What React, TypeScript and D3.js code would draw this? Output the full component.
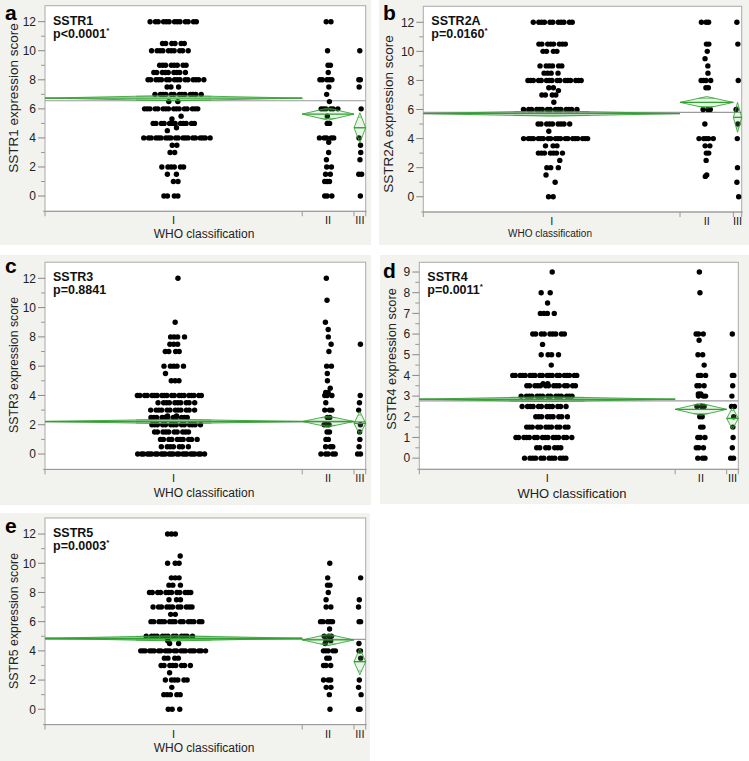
import React from 'react';
import * as d3 from 'd3';

// ---------- DATA ----------
const GROUPS = ['I', 'II', 'III'];
const Y_TICKS_12 = [0, 2, 4, 6, 8, 10, 12];
const Y_MINOR_12 = [1, 3, 5, 7, 9, 11];
const Y_TICKS_9 = [0, 1, 2, 3, 4, 5, 6, 7, 8, 9];
const Y_MINOR_9 = [0.5, 1.5, 2.5, 3.5, 4.5, 5.5, 6.5, 7.5, 8.5];

// [score, number of patients]
const SSTR1_I = [[12,13],[10.5,6],[10,10],[9,8],[8.5,9],[8,16],[7.5,3],[7,13],[6.5,2],[6,16],[5.5,1],[5.3,1],[5,12],[4.7,1],[4.5,1],[4,20],[3.5,2],[3,2],[2,6],[1.5,2],[1,2],[0,4]];
const SSTR1_II = [[12,2],[10,1],[9,2],[8.5,1],[8,5],[7.5,1],[7,1],[6.5,1],[6,6],[5.5,1],[5,2],[4,5],[3.7,1],[3,1],[2.5,1],[2,2],[1.5,2],[1,3],[0,3]];
const SSTR1_III = [[10,1],[8,2],[7.5,1],[6,1],[4,1],[3.5,1],[3,1],[2.5,1],[1.5,2],[0,1]];

const SSTR2A_I = [[12,11],[10.5,8],[10,4],[9,6],[8.5,4],[8,16],[7.5,2],[7.3,1],[7,4],[6.5,1],[6,15],[5,9],[4.5,1],[4,20],[3.5,3],[3,7],[2.5,1],[2,3],[1.5,1],[1,1],[0,2]];
const SSTR2A_II = [[12,3],[10.5,2],[10,1],[9.5,1],[9,1],[8.5,1],[8,4],[7.5,2],[6,3],[5,1],[4,5],[3.5,2],[3,2],[2.5,1],[1.5,1],[1.4,1]];
const SSTR2A_III = [[12,1],[10.5,1],[8,1],[6,1],[5,1],[4,1],[2,1],[1,1],[0,1]];

const SSTR3_I = [[12,1],[9,1],[8,4],[7.5,3],[7,4],[6,5],[5.5,1],[5,3],[4,20],[3.5,10],[3,12],[2.6,2],[2.5,11],[2,14],[1.5,10],[1,10],[0.5,7],[0,25]];
const SSTR3_II = [[12,1],[10.5,1],[9,1],[8.5,1],[8,1],[7.5,1],[7,1],[6,2],[5.5,1],[5,1],[4.5,1],[4.2,2],[4,3],[3.5,1],[3,3],[2.5,2],[2,3],[1.5,2],[1,2],[0.5,3],[0,5]];
const SSTR3_III = [[7.5,1],[4,1],[3.5,1],[3,1],[2,1],[1.5,1],[1,1],[0.5,1],[0,2]];

const SSTR4_I = [[9,1],[8,2],[7.5,1],[7,4],[6,9],[5.5,1],[5,4],[4.5,1],[4,20],[3.6,2],[3.5,14],[3,15],[2.5,12],[2,9],[1.5,12],[1,16],[0.5,7],[0,12]];
const SSTR4_II = [[9,1],[8,1],[6,3],[5.7,1],[5,2],[4.5,1],[4,3],[3.5,3],[3.1,2],[3,3],[2.5,3],[2,2],[1.5,2],[1,3],[0.5,3],[0,3]];
const SSTR4_III = [[6,1],[4,2],[3.5,1],[3,1],[2.5,2],[2,1],[1.5,1],[1,1],[0.5,1],[0,2]];

const SSTR5_I = [[12,3],[10.5,1],[10,3],[9,3],[8.5,3],[8,12],[7.5,3],[7,11],[6.5,2],[6,15],[5,13],[4.7,1],[4.5,2],[4,22],[3.5,4],[3,8],[2.5,1],[2,6],[1.5,1],[1,5],[0,3]];
const SSTR5_II = [[10,1],[9,1],[8.5,2],[8,1],[7.5,1],[7,2],[6,5],[5.5,1],[5,3],[4.7,2],[4.5,1],[4,5],[3.5,2],[3,3],[2,3],[1.5,2],[1,1],[0,1]];
const SSTR5_III = [[9,1],[7.5,1],[7,1],[6,2],[4.5,1],[4,2],[3.5,1],[2,1],[1.5,1],[1,1],[0,2]];

// group sizes (axis proportional)
const N_A = [154, 31, 7];
const N_B = [154, 32, 5];
const N_C = [154, 31, 7];
const N_D = [154, 31, 7];
const N_E = [154, 31, 7];

// means diamonds: group means, CI half widths, grand mean
const MEANS_A = [6.74, 5.64, 4.7];
const HALF_A = [0.18, 0.42, 1.03];
const GRAND_A = 6.56;
const MEANS_B = [5.72, 6.49, 5.46];
const HALF_B = [0.18, 0.4, 1.03];
const GRAND_B = 5.8;
const MEANS_C = [2.22, 2.22, 2.1];
const HALF_C = [0.15, 0.37, 0.8];
const GRAND_C = 2.21;
const MEANS_D = [2.85, 2.36, 1.92];
const HALF_D = [0.12, 0.29, 0.53];
const GRAND_D = 2.77;
const MEANS_E = [4.86, 4.75, 3.26];
const HALF_E = [0.18, 0.39, 0.9];
const GRAND_E = 4.79;

const NAMES = ['SSTR1', 'SSTR2A', 'SSTR3', 'SSTR4', 'SSTR5'];
const PVALS = ['p<0.0001', 'p=0.0160', 'p=0.8841', 'p=0.0011', 'p=0.0003'];
const SIGNIF = [true, true, false, true, true];
const LETTERS = ['a', 'b', 'c', 'd', 'e'];

// ---------- LAYOUT ----------
const FONT = "'Liberation Sans', Arial, Helvetica, sans-serif";
const BG = '#f2f2ef';
const GREEN = '#33a033';

const PANELS = [
  { data: [SSTR1_I, SSTR1_II, SSTR1_III], n: N_A, means: MEANS_A, half: HALF_A, grand: GRAND_A,
    bg: [0, 0, 371, 245], frame: { l: 45, r: 365.7, t: 5.7, b: 211.3 }, domain: [-1.05, 13.1],
    ticks: Y_TICKS_12, minor: Y_MINOR_12, letterPos: [5, 20], ylab: [13.5, 98, 13.5], xlab: [204, 238, 12] },
  { data: [SSTR2A_I, SSTR2A_II, SSTR2A_III], n: N_B, means: MEANS_B, half: HALF_B, grand: GRAND_B,
    bg: [379, 0, 370, 245], frame: { l: 423.3, r: 741.7, t: 6.3, b: 212 }, domain: [-1.05, 13.1],
    ticks: Y_TICKS_12, minor: Y_MINOR_12, letterPos: [383, 20], ylab: [388.5, 114, 13.5], xlab: [550, 237, 10] },
  { data: [SSTR3_I, SSTR3_II, SSTR3_III], n: N_C, means: MEANS_C, half: HALF_C, grand: GRAND_C,
    bg: [0, 255, 371, 250], frame: { l: 45, r: 365.7, t: 262.2, b: 469.4 }, domain: [-1.05, 13.1],
    ticks: Y_TICKS_12, minor: Y_MINOR_12, letterPos: [5, 273], ylab: [13.5, 365, 12.3], xlab: [204, 497, 12] },
  { data: [SSTR4_I, SSTR4_II, SSTR4_III], n: N_D, means: MEANS_D, half: HALF_D, grand: GRAND_D,
    bg: [380, 255, 369, 249], frame: { l: 419.3, r: 738.3, t: 262.3, b: 469.3 }, domain: [-0.54, 9.47],
    ticks: Y_TICKS_9, minor: Y_MINOR_9, letterPos: [383, 278], ylab: [392, 359, 12.8], xlab: [572, 497.5, 13] },
  { data: [SSTR5_I, SSTR5_II, SSTR5_III], n: N_E, means: MEANS_E, half: HALF_E, grand: GRAND_E,
    bg: [0, 513, 370, 248], frame: { l: 45, r: 365.7, t: 518, b: 724.6 }, domain: [-1.05, 13.1],
    ticks: Y_TICKS_12, minor: Y_MINOR_12, letterPos: [5, 533], ylab: [13.5, 621, 12.3], xlab: [204, 752, 12] },
];

const DOT_R = 2.7;
const PHI = 0.6180339887;
const frac = (v: number) => v - Math.floor(v);
const MAX_ROW_W = [68, 22, 4];
const SINGLE_SHIFT = [16, 5, 1];

function Panel({ cfg, idx }: { cfg: any; idx: number }) {
  const { frame, domain } = cfg;
  const y = d3.scaleLinear().domain(domain).range([frame.b, frame.t]);
  const total = d3.sum(cfg.n as number[]);
  const x = d3.scaleLinear().domain([0, total]).range([frame.l, frame.r]);
  const bounds = [0, ...Array.from(d3.cumsum(cfg.n as number[]))];
  const centers = GROUPS.map((_, g) => x((bounds[g] + bounds[g + 1]) / 2));

  // deterministic jitter (stratified, golden-ratio sequence)
  const dots: { cx: number; cy: number }[] = [];
  cfg.data.forEach((rows: number[][], g: number) => {
    rows.forEach(([v, c]) => {
      const W = Math.min(c * 3.3 + (g === 0 ? 6 : 0), MAX_ROW_W[g]);
      const sMax = c > 1 ? Math.min(W * 0.3, g === 0 ? 10 : 4) : SINGLE_SHIFT[g];
      const shift = (frac(v * 2.71 + g * 0.37 + idx * 0.13) - 0.5) * sMax;
      for (let i = 0; i < c; i++) {
        const t = (i + 0.15 + 0.7 * frac((i + 1) * PHI + v * 0.37 + idx * 0.21)) / c;
        dots.push({ cx: centers[g] + shift + (t - 0.5) * W, cy: y(v) });
      }
    });
  });

  const tickEnd = frame.l - 9;
  return (
    <g>
      <rect x={cfg.bg[0]} y={cfg.bg[1]} width={cfg.bg[2]} height={cfg.bg[3]} fill={BG} />
      <rect x={frame.l} y={frame.t} width={frame.r - frame.l} height={frame.b - frame.t} fill="#fff" stroke="#aaa" strokeWidth={1} />
      {cfg.ticks.map((t: number) => (
        <g key={'t' + t}>
          <line x1={frame.l - 7} x2={frame.l} y1={y(t)} y2={y(t)} stroke="#888" strokeWidth={1} />
          <text x={tickEnd} y={y(t)} dy="0.36em" textAnchor="end" fontSize={12} fontFamily={FONT} fill="#222">{t}</text>
        </g>
      ))}
      {cfg.minor.map((t: number) => (
        <line key={'m' + t} x1={frame.l - 4} x2={frame.l} y1={y(t)} y2={y(t)} stroke="#999" strokeWidth={1} />
      ))}
      <line x1={frame.l - 2} x2={frame.r + 1} y1={frame.b} y2={frame.b} stroke="#999" strokeWidth={1} />
      {bounds.map((b, i) => (
        <line key={'xb' + i} x1={x(b)} x2={x(b)} y1={frame.b} y2={frame.b + 5} stroke="#999" strokeWidth={1} />
      ))}
      {GROUPS.map((gname, g) => (
        <text key={'gl' + g} x={centers[g]} y={frame.b + 13} textAnchor="middle" fontSize={11} fontFamily={FONT} fill="#222">{gname}</text>
      ))}
      <line x1={frame.l} x2={frame.r} y1={y(cfg.grand)} y2={y(cfg.grand)} stroke="#9a9a9a" strokeWidth={1.2} />
      {dots.map((d, i) => (
        <circle key={'d' + i} cx={d.cx} cy={d.cy} r={DOT_R} fill="#000" />
      ))}
      {GROUPS.map((_, g) => {
        const xl = x(bounds[g]);
        const xr = x(bounds[g + 1]);
        const xm = (xl + xr) / 2;
        const m = cfg.means[g];
        const h = cfg.half[g];
        const k = 1 / Math.SQRT2;
        const ow = (xm - xl) * (1 - k);
        return (
          <g key={'dm' + g}>
            <path d={`M${xl},${y(m)}L${xm},${y(m + h)}L${xr},${y(m)}L${xm},${y(m - h)}Z`} fill="rgba(120,200,120,0.18)" stroke={GREEN} strokeWidth={1} strokeOpacity={0.85} />
            <line x1={xl} x2={xr} y1={y(m)} y2={y(m)} stroke={GREEN} strokeWidth={1.4} />
            <line x1={xm - ow} x2={xm + ow} y1={y(m + h * k)} y2={y(m + h * k)} stroke={GREEN} strokeWidth={0.8} strokeOpacity={0.8} />
            <line x1={xm - ow} x2={xm + ow} y1={y(m - h * k)} y2={y(m - h * k)} stroke={GREEN} strokeWidth={0.8} strokeOpacity={0.8} />
          </g>
        );
      })}
      <text x={cfg.letterPos[0]} y={cfg.letterPos[1]} fontSize={21} fontWeight="bold" fontFamily={FONT} fill="#000">{LETTERS[idx]}</text>
      <text x={frame.l + 8} y={frame.t + 19} fontSize={12.5} fontWeight="bold" fontFamily={FONT} fill="#111">{NAMES[idx]}</text>
      <text x={frame.l + 8} y={frame.t + 32} fontSize={12.5} fontWeight="bold" fontFamily={FONT} fill="#111">
        {PVALS[idx]}
        {SIGNIF[idx] ? <tspan fontSize={8} dy={-5}>*</tspan> : null}
      </text>
      <text transform={`translate(${cfg.ylab[0]},${cfg.ylab[1]}) rotate(-90)`} textAnchor="middle" dy="0.35em" fontSize={cfg.ylab[2]} fontFamily={FONT} fill="#222">
        {NAMES[idx]} expression score
      </text>
      <text x={cfg.xlab[0]} y={cfg.xlab[1]} textAnchor="middle" fontSize={cfg.xlab[2]} fontFamily={FONT} fill="#222">WHO classification</text>
    </g>
  );
}

export default function App() {
  return (
    <svg width={749} height={761} style={{ position: 'absolute', left: 0, top: 0, background: '#fff' }}>
      {PANELS.map((p, i) => (
        <Panel key={i} cfg={p} idx={i} />
      ))}
    </svg>
  );
}
